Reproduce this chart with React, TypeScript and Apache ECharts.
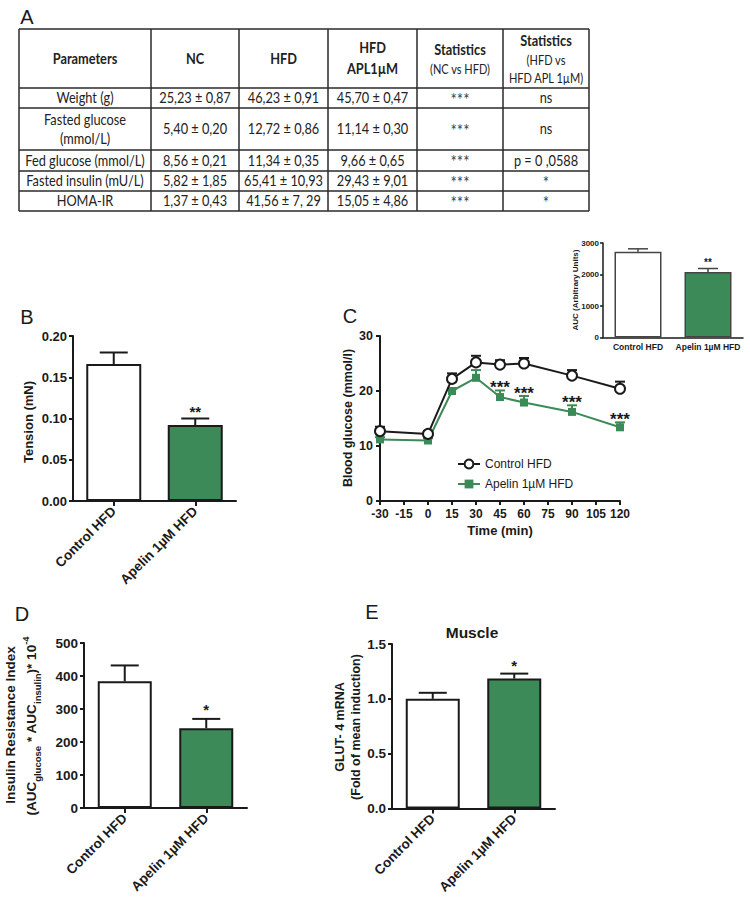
import React, { useEffect, useRef } from 'react';
import * as echarts from 'echarts';

// ---------- Data ----------
const groups = ['Control HFD', 'Apelin 1µM HFD'];

// Panel A (table)
const tableHeadBold = ['Parameters', 'NC', 'HFD', 'HFD\nAPL1µM', 'Statistics', 'Statistics'];
const tableHeadNote = ['', '', '', '', '(NC vs HFD)', '(HFD vs\nHFD APL 1µM)'];
const tableParams = ['Weight (g)', 'Fasted glucose\n(mmol/L)', 'Fed glucose (mmol/L)', 'Fasted insulin (mU/L)', 'HOMA-IR'];
const tableNC = ['25,23 ± 0,87', '5,40 ± 0,20', '8,56 ± 0,21', '5,82 ± 1,85', '1,37 ± 0,43'];
const tableHFD = ['46,23 ± 0,91', '12,72 ± 0,86', '11,34 ± 0,35', '65,41 ± 10,93', '41,56 ± 7, 29'];
const tableAPL = ['45,70 ± 0,47', '11,14 ± 0,30', '9,66 ± 0,65', '29,43 ± 9,01', '15,05 ± 4,86'];
const tableStatNC = ['***', '***', '***', '***', '***'];
const tableStatAPL = ['ns', 'ns', 'p = 0 ,0588', '*', '*'];

// Panel B
const tensionMean = [0.166, 0.092];
const tensionErr = [0.014, 0.008];
const tensionSig = ['', '**'];

// Panel C
const timeMin = [-30, 0, 15, 30, 45, 60, 90, 120];
const glucoseControl = [12.7, 12.2, 22.2, 25.2, 24.8, 25.0, 22.8, 20.4];
const glucoseControlErr = [0.8, 0.5, 1.0, 1.2, 0.8, 1.0, 1.0, 1.3];
const glucoseApelin = [11.2, 11.0, 20.0, 22.4, 18.9, 17.9, 16.2, 13.4];
const glucoseApelinErr = [0.4, 0.4, 0.5, 1.4, 1.2, 1.2, 1.2, 0.9];
const glucoseSig = ['', '', '', '', '***', '***', '***', '***'];

// Panel C inset
const aucMean = [2720, 2080];
const aucErr = [95, 110];
const aucSig = ['', '**'];

// Panel D
const irMean = [384, 242];
const irErr = [48, 28];
const irSig = ['', '*'];

// Panel E
const glut4Mean = [1.0, 1.185];
const glut4Err = [0.055, 0.045];
const glut4Sig = ['', '*'];

// ---------- Styling ----------
const FONT = '"Liberation Sans", Arial, Helvetica, sans-serif';
const TABLE_FONT = 'Lato, "Liberation Sans", sans-serif';
const TABLE_SCALE = 0.88;
const INK = '#1a1a1a';
const GREEN = '#3b8a57';
const barFills = ['#ffffff', GREEN];

function catX(gridIndex: number, fontSize: number, rotate: number, margin: number, showTick: boolean, lw: number) {
  return {
    type: 'category', gridIndex, data: groups,
    axisLine: { onZero: false, lineStyle: { color: INK, width: lw } },
    axisTick: { show: showTick, alignWithLabel: true, length: 5, lineStyle: { color: INK, width: lw } },
    axisLabel: { interval: 0, rotate, margin, fontSize, fontWeight: 'bold', color: INK, fontFamily: FONT },
    splitLine: { show: false },
  };
}

function valY(gridIndex: number, max: number, interval: number, digits: number, fontSize: number, lw: number, tickLen: number, margin: number) {
  return {
    type: 'value', gridIndex, min: 0, max, interval,
    axisLine: { show: true, onZero: false, lineStyle: { color: INK, width: lw } },
    axisTick: { show: true, length: tickLen, lineStyle: { color: INK, width: lw } },
    axisLabel: { formatter: (v: number) => v.toFixed(digits), fontSize, fontWeight: 'bold', color: INK, fontFamily: FONT, margin },
    splitLine: { show: false },
  };
}

function barSeries(idx: number, means: number[], width: number, borderColor: string, borderWidth: number) {
  return {
    type: 'bar', xAxisIndex: idx, yAxisIndex: idx, barWidth: width, z: 2,
    data: means.map((v, i) => ({ value: v, itemStyle: { color: barFills[i] } })),
    itemStyle: { borderColor, borderWidth },
  };
}

function errSeries(idx: number, xs: number[], means: number[], errs: number[], capW: number, color: string, lw: number, z: number) {
  return {
    type: 'custom', xAxisIndex: idx, yAxisIndex: idx, z,
    data: means.map((m, i) => [xs[i], m, errs[i]]),
    renderItem: (params: any, api: any) => {
      const x = api.value(0), m = api.value(1), e = api.value(2);
      const p0 = api.coord([x, m]);
      const p1 = api.coord([x, m + e]);
      const st = { stroke: color, lineWidth: lw };
      return {
        type: 'group',
        children: [
          { type: 'line', shape: { x1: p0[0], y1: p0[1], x2: p1[0], y2: p1[1] }, style: st },
          { type: 'line', shape: { x1: p1[0] - capW / 2, y1: p1[1], x2: p1[0] + capW / 2, y2: p1[1] }, style: st },
        ],
      };
    },
  };
}

function sigSeries(idx: number, xs: number[], means: number[], errs: number[], labels: string[], fontSize: number, dy: number) {
  return {
    type: 'custom', xAxisIndex: idx, yAxisIndex: idx, z: 6,
    data: means.map((m, i) => [xs[i], m + errs[i]]),
    renderItem: (params: any, api: any) => {
      const lab = labels[params.dataIndex];
      if (!lab) return { type: 'group', children: [] };
      const p = api.coord([api.value(0), api.value(1)]);
      return {
        type: 'text', x: p[0], y: p[1] + dy,
        style: {
          text: lab, fill: INK, fontSize, fontWeight: 'bold', fontFamily: FONT,
          align: 'center', verticalAlign: 'middle', textAlign: 'center', textVerticalAlign: 'middle',
        },
      };
    },
  };
}

function gText(x: number, y: number, text: string, fontSize: number, weight: string, rot = 0, family = FONT, extra: any = {}, scaleX = 1) {
  return {
    type: 'text', x, y, rotation: rot, scaleX, silent: true,
    style: {
      text, fill: INK, fontSize, fontWeight: weight, fontFamily: family,
      align: 'center', verticalAlign: 'middle', textAlign: 'center', textVerticalAlign: 'middle',
      ...extra,
    },
  };
}

function buildTable() {
  const colX = [19, 151, 239, 328, 417, 503, 589];
  const rowY = [29, 88, 108, 150, 171, 191, 211];
  const els: any[] = [];
  const lineStyle = { stroke: '#2a2a2a', lineWidth: 1.5 };
  colX.forEach((x) => els.push({ type: 'line', silent: true, shape: { x1: x, y1: rowY[0], x2: x, y2: rowY[rowY.length - 1] }, style: lineStyle }));
  rowY.forEach((y) => els.push({ type: 'line', silent: true, shape: { x1: colX[0], y1: y, x2: colX[colX.length - 1], y2: y }, style: lineStyle }));
  const cols = [tableParams, tableNC, tableHFD, tableAPL, tableStatNC, tableStatAPL];
  for (let c = 0; c < 6; c++) {
    const cx = (colX[c] + colX[c + 1]) / 2;
    const bold = tableHeadBold[c].split('\n').map((l) => `{b|${l}}`).join('\n');
    const note = tableHeadNote[c] ? '\n' + tableHeadNote[c].split('\n').map((l) => `{s|${l}}`).join('\n') : '';
    els.push({
      type: 'text', x: cx, y: (rowY[0] + rowY[1]) / 2, scaleX: TABLE_SCALE, silent: true,
      style: {
        text: bold + note, align: 'center', verticalAlign: 'middle', textAlign: 'center', textVerticalAlign: 'middle',
        rich: {
          b: { fontSize: 14.5, fontWeight: 'bold', fontFamily: TABLE_FONT, lineHeight: 21, fill: '#222', align: 'center' },
          s: { fontSize: 12.5, fontFamily: TABLE_FONT, lineHeight: 18, fill: '#222', align: 'center' },
        },
      },
    });
    for (let r = 0; r < 5; r++) {
      const cy = (rowY[r + 1] + rowY[r + 2]) / 2;
      const isStar = cols[c][r].indexOf('*') === 0;
      els.push(gText(cx, cy + (isStar ? 1 : 0), cols[c][r], isStar ? 17 : 14.5, 'normal', 0, TABLE_FONT,
        { lineHeight: 19, fill: isStar ? '#444' : '#222' }, TABLE_SCALE));
    }
  }
  return els;
}

function buildOption() {
  const catIdx = [0, 1];
  const graphic: any[] = [
    gText(27, 17, 'A', 20, 'normal'),
    gText(27, 317, 'B', 20, 'normal'),
    gText(350, 316, 'C', 20, 'normal'),
    gText(22, 614, 'D', 20, 'normal'),
    gText(372, 612, 'E', 20, 'normal'),
    ...buildTable(),
    gText(28, 422, 'Tension (mN)', 13, 'bold', Math.PI / 2),
    gText(348, 418, 'Blood glucose (mmol/l)', 12.5, 'bold', Math.PI / 2),
    gText(575, 290, 'AUC (Arbitrary Units)', 8, 'bold', Math.PI / 2),
    gText(10, 725, 'Insulin Resistance Index', 13.5, 'bold', Math.PI / 2),
    {
      type: 'text', x: 31, y: 726, rotation: Math.PI / 2, silent: true,
      style: {
        text: '{m|(AUC}{sub|glucose}{m| * AUC}{sub|insulin}{m|)* 10}{sup|-4}',
        align: 'center', verticalAlign: 'middle', textAlign: 'center', textVerticalAlign: 'middle',
        rich: {
          m: { fontSize: 13.5, fontWeight: 'bold', fontFamily: FONT, lineHeight: 22, fill: INK },
          sub: { fontSize: 9.5, fontWeight: 'bold', fontFamily: FONT, lineHeight: 10, verticalAlign: 'bottom', fill: INK },
          sup: { fontSize: 9.5, fontWeight: 'bold', fontFamily: FONT, lineHeight: 10, verticalAlign: 'top', fill: INK },
        },
      },
    },
    gText(340, 727, 'GLUT- 4 mRNA', 12.5, 'bold', Math.PI / 2),
    gText(356, 727, '(Fold of mean induction)', 12.5, 'bold', Math.PI / 2),
    gText(472, 632, 'Muscle', 15.5, 'bold'),
  ];

  return {
    animation: false,
    backgroundColor: '#ffffff',
    textStyle: { fontFamily: FONT, color: INK },
    graphic,
    grid: [
      { left: 73, top: 336, width: 163, height: 165 },   // B
      { left: 380, top: 336, width: 240, height: 165 },  // C
      { left: 603, top: 243, width: 140, height: 94.5 }, // C inset
      { left: 84, top: 643, width: 163, height: 165 },   // D
      { left: 392, top: 644, width: 163, height: 164.5 },// E
    ],
    legend: {
      orient: 'vertical', left: 452, top: 452, itemWidth: 22, itemHeight: 11, itemGap: 6,
      data: ['Control HFD', 'Apelin 1µM HFD'],
      textStyle: { fontSize: 12, fontFamily: FONT, color: INK, lineHeight: 14 },
    },
    xAxis: [
      catX(0, 13.5, 45, 8, true, 2),
      {
        type: 'value', gridIndex: 1, min: -30, max: 120, interval: 15,
        axisLine: { onZero: false, lineStyle: { color: INK, width: 2 } },
        axisTick: { length: 4, lineStyle: { color: INK, width: 2 } },
        axisLabel: { fontSize: 12, fontWeight: 'bold', color: INK, fontFamily: FONT, margin: 7 },
        splitLine: { show: false },
        name: 'Time (min)', nameLocation: 'middle', nameGap: 23,
        nameTextStyle: { fontSize: 13, fontWeight: 'bold', color: INK, fontFamily: FONT },
      },
      catX(2, 8.5, 0, 5, false, 1.5),
      catX(3, 13.5, 45, 8, true, 2),
      catX(4, 13.5, 45, 8, true, 2),
    ],
    yAxis: [
      valY(0, 0.2, 0.05, 2, 13, 2, 4, 6),
      valY(1, 30, 10, 0, 12.5, 2, 4, 7),
      valY(2, 3000, 1000, 0, 8, 1.5, 3, 4),
      valY(3, 500, 100, 0, 13.5, 2, 4, 6),
      valY(4, 1.5, 0.5, 1, 13.5, 2, 4, 6),
    ],
    series: [
      // B
      barSeries(0, tensionMean, 55, INK, 2),
      errSeries(0, catIdx, tensionMean, tensionErr, 28, INK, 2, 3),
      sigSeries(0, catIdx, tensionMean, tensionErr, tensionSig, 15, -7),
      // C
      errSeries(1, timeMin, glucoseApelin, glucoseApelinErr, 10, GREEN, 2, 2),
      errSeries(1, timeMin, glucoseControl, glucoseControlErr, 10, INK, 2, 2),
      {
        type: 'line', name: 'Apelin 1µM HFD', xAxisIndex: 1, yAxisIndex: 1, z: 3,
        data: timeMin.map((t, i) => [t, glucoseApelin[i]]),
        symbol: 'rect', symbolSize: 8,
        itemStyle: { color: GREEN, borderColor: GREEN, borderWidth: 0 },
        lineStyle: { color: GREEN, width: 2 },
      },
      {
        type: 'line', name: 'Control HFD', xAxisIndex: 1, yAxisIndex: 1, z: 4,
        data: timeMin.map((t, i) => [t, glucoseControl[i]]),
        symbol: 'circle', symbolSize: 10,
        itemStyle: { color: '#ffffff', borderColor: INK, borderWidth: 2 },
        lineStyle: { color: INK, width: 2 },
      },
      sigSeries(1, timeMin, glucoseApelin, glucoseApelinErr, glucoseSig, 17, -2.5),
      // inset
      barSeries(2, aucMean, 47, '#444', 1.5),
      errSeries(2, catIdx, aucMean, aucErr, 20, '#444', 1.5, 3),
      sigSeries(2, catIdx, aucMean, aucErr, aucSig, 10, -6),
      // D
      barSeries(3, irMean, 54, INK, 2),
      errSeries(3, catIdx, irMean, irErr, 28, INK, 2, 3),
      sigSeries(3, catIdx, irMean, irErr, irSig, 15, -9),
      // E
      barSeries(4, glut4Mean, 54, INK, 2),
      errSeries(4, catIdx, glut4Mean, glut4Err, 28, INK, 2, 3),
      sigSeries(4, catIdx, glut4Mean, glut4Err, glut4Sig, 15, -8.5),
    ],
  };
}

export default function App() {
  const ref = useRef<HTMLDivElement>(null);
  useEffect(() => {
    if (!ref.current) return;
    const chart = echarts.init(ref.current, null, { renderer: 'svg' });
    chart.setOption(buildOption() as any);
    return () => chart.dispose();
  }, []);
  return (
    <div
      ref={ref}
      style={{ position: 'absolute', left: 0, top: 0, width: 750, height: 907, background: '#ffffff' }}
    />
  );
}
